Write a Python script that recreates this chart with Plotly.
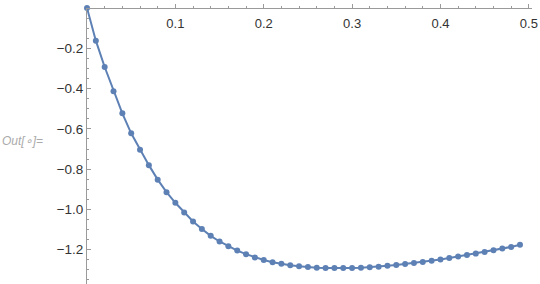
import plotly.graph_objects as go

x_vals = [0.00, 0.01, 0.02, 0.03, 0.04, 0.05, 0.06, 0.07, 0.08, 0.09,
          0.10, 0.11, 0.12, 0.13, 0.14, 0.15, 0.16, 0.17, 0.18, 0.19,
          0.20, 0.21, 0.22, 0.23, 0.24, 0.25, 0.26, 0.27, 0.28, 0.29,
          0.30, 0.31, 0.32, 0.33, 0.34, 0.35, 0.36, 0.37, 0.38, 0.39,
          0.40, 0.41, 0.42, 0.43, 0.44, 0.45, 0.46, 0.47, 0.48, 0.49]
y_vals = [0.000, -0.162, -0.293, -0.413, -0.523, -0.622, -0.704, -0.780, -0.852, -0.914,
          -0.967, -1.015, -1.060, -1.097, -1.131, -1.159, -1.183, -1.204, -1.222, -1.238,
          -1.251, -1.262, -1.270, -1.277, -1.282, -1.286, -1.289, -1.290, -1.291, -1.291,
          -1.290, -1.289, -1.287, -1.284, -1.280, -1.276, -1.271, -1.266, -1.261, -1.254,
          -1.248, -1.241, -1.233, -1.226, -1.219, -1.211, -1.203, -1.194, -1.186, -1.175]

x_ticks = [0.1, 0.2, 0.3, 0.4, 0.5]
x_tick_labels = ["0.1", "0.2", "0.3", "0.4", "0.5"]
y_ticks = [-0.2, -0.4, -0.6, -0.8, -1.0, -1.2]
y_tick_labels = ["\u22120.2", "\u22120.4", "\u22120.6", "\u22120.8", "\u22121.0", "\u22121.2"]

color = "#5E81B5"
axis_color = "#9a9a9a"
font_family = "Liberation Sans, Arial, sans-serif"

fig = go.Figure()
fig.add_trace(go.Scatter(
    x=x_vals, y=y_vals, mode="lines+markers",
    line=dict(color=color, width=2),
    marker=dict(color=color, size=6),
    showlegend=False, cliponaxis=False,
))

fig.update_layout(
    width=540, height=284,
    margin=dict(l=87, r=8, t=8, b=0),
    paper_bgcolor="white", plot_bgcolor="white",
    font=dict(family=font_family, size=13, color="#333333"),
    xaxis=dict(
        range=[0, 0.5036], side="bottom", anchor="free", position=1,
        showgrid=False, zeroline=False,
        showline=True, linecolor=axis_color, linewidth=1,
        tickmode="array", tickvals=x_ticks, ticktext=x_tick_labels,
        ticks="inside", ticklen=4, tickcolor=axis_color, tickwidth=1,
        ticklabelstandoff=3,
        minor=dict(dtick=0.02, tick0=0, ticks="inside", ticklen=2, tickcolor=axis_color),
        tickfont=dict(size=13, color="#333333"),
    ),
    yaxis=dict(
        range=[-1.37, 0],
        showgrid=False, zeroline=False,
        showline=True, linecolor=axis_color, linewidth=1,
        tickmode="array", tickvals=y_ticks, ticktext=y_tick_labels,
        ticks="inside", ticklen=4, tickcolor=axis_color, tickwidth=1,
        minor=dict(dtick=0.05, tick0=0, ticks="inside", ticklen=2, tickcolor=axis_color),
        tickfont=dict(size=13.5, color="#333333"),
    ),
    annotations=[dict(
        text="<i>Out[\u2218]=</i>", xref="paper", yref="paper",
        x=-87/445, y=1 - (141 - 8) / 276, xanchor="left", yanchor="middle",
        showarrow=False, font=dict(family=font_family, size=12, color="#aaaaaa"),
    )],
)

fig.write_html("out.html")
